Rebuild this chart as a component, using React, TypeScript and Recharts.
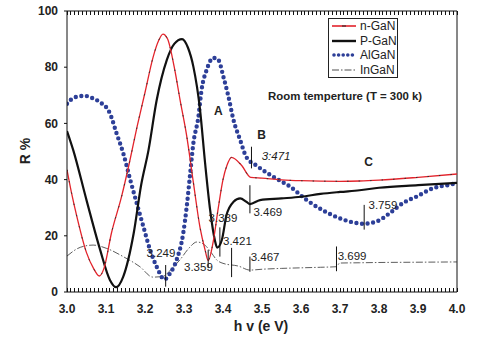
import React from "react";
import { LineChart, Line, XAxis, YAxis, ReferenceLine, ReferenceDot } from "recharts";

// reflectance curves, [photon energy eV, R %]
const nGaN = [
  [3.0, 43.5], [3.012, 35], [3.025, 27], [3.05, 14], [3.068, 8.4], [3.083, 5.7], [3.095, 8.5],
  [3.114, 21], [3.14, 34], [3.16, 46], [3.18, 59], [3.2, 71], [3.221, 83.7], [3.235, 89.5],
  [3.246, 91.8], [3.258, 90], [3.275, 80], [3.29, 68.3], [3.307, 55.5], [3.324, 39], [3.341, 23],
  [3.354, 15], [3.362, 11.2], [3.375, 18], [3.388, 30], [3.4, 40], [3.41, 45], [3.422, 47.9],
  [3.448, 45], [3.471, 40.8], [3.5, 40.5], [3.55, 39.9], [3.6, 39.6], [3.7, 39.4], [3.75, 39.5],
  [3.8, 39.8], [3.9, 40.8], [4.0, 42],
];
const pGaN = [
  [3.0, 57.3], [3.016, 50.5], [3.05, 32.7], [3.085, 15], [3.11, 4.3], [3.126, 1.7], [3.144, 5.4],
  [3.171, 20.9], [3.19, 38], [3.209, 50.5], [3.23, 68.3], [3.256, 82.6], [3.275, 88.3], [3.295, 90],
  [3.31, 87], [3.324, 80.2], [3.341, 65], [3.354, 46], [3.367, 29.2], [3.379, 18.5], [3.385, 15.8],
  [3.397, 18.5], [3.409, 27.4], [3.427, 32.1], [3.444, 33.3], [3.46, 32.1], [3.469, 31.3],
  [3.495, 32.7], [3.55, 33.3], [3.6, 33.9], [3.65, 34.9], [3.7, 35.6], [3.75, 36.2], [3.8, 37.1],
  [3.9, 38], [4.0, 38.8],
];
const alGaN = [
  [3.0, 67], [3.02, 69.3], [3.046, 69.8], [3.065, 69], [3.085, 67.5], [3.11, 63.6], [3.127, 56.5],
  [3.144, 49.5], [3.162, 40], [3.179, 31.5], [3.196, 23.2], [3.213, 15], [3.23, 9], [3.25, 4.5],
  [3.264, 6.6], [3.281, 11.4], [3.298, 20.9], [3.307, 30.4], [3.315, 41], [3.324, 52.9],
  [3.337, 62.4], [3.345, 71.9], [3.358, 79], [3.375, 83.3], [3.388, 82.6], [3.401, 76.6],
  [3.414, 69.5], [3.427, 61.2], [3.444, 54.1], [3.46, 48], [3.486, 45], [3.529, 41], [3.572, 37.5],
  [3.615, 32.7], [3.657, 29], [3.7, 26.2], [3.74, 24.6], [3.76, 24.3], [3.794, 25.1], [3.828, 28.1],
  [3.862, 31.7], [3.897, 34], [3.94, 37], [3.982, 38.2], [4.0, 38.8],
];
const inGaN = [
  [3.0, 12.8], [3.034, 15.9], [3.067, 16.7], [3.102, 15.5], [3.144, 12.6], [3.187, 9], [3.22, 5.3],
  [3.245, 5.5], [3.27, 8.5], [3.29, 11.5], [3.312, 15.5], [3.333, 17.8], [3.355, 16.5], [3.37, 14],
  [3.384, 11.4], [3.4, 10.2], [3.44, 9.2], [3.469, 7.8], [3.5, 8.1], [3.55, 8.4], [3.6, 8.6],
  [3.65, 8.8], [3.691, 9.0], [3.699, 10.3], [3.75, 10.4], [3.8, 10.5], [3.9, 10.6], [4.0, 10.7],
];

const xMajor = [3.0, 3.1, 3.2, 3.3, 3.4, 3.5, 3.6, 3.7, 3.8, 3.9, 4.0];
const yTicks = [0, 20, 40, 60, 80, 100];

// short vertical markers at the transition energies
const markers = [
  { x: 3.253, y1: 1.9, y2: 9.6 },
  { x: 3.362, y1: 8.5, y2: 15 },
  { x: 3.392, y1: 12.6, y2: 23 },
  { x: 3.422, y1: 5.3, y2: 15.7 },
  { x: 3.469, y1: 7.2, y2: 12.6 },
  { x: 3.469, y1: 28, y2: 38 },
  { x: 3.473, y1: 44, y2: 51.7 },
  { x: 3.691, y1: 7.4, y2: 16.2 },
  { x: 3.762, y1: 22.2, y2: 31 },
];
const notes = [
  { x: 3.241, y: 13.9, t: "3.249" },
  { x: 3.337, y: 8.9, t: "3.359" },
  { x: 3.4, y: 26.3, t: "3.389" },
  { x: 3.437, y: 18.3, t: "3.421" },
  { x: 3.508, y: 12.6, t: "3.467" },
  { x: 3.515, y: 28.5, t: "3.469" },
  { x: 3.536, y: 48.5, t: "3:471" },
  { x: 3.731, y: 12.9, t: "3.699" },
  { x: 3.81, y: 31.1, t: "3.759" },
];
const letters = [
  { x: 3.388, y: 64.5, t: "A" },
  { x: 3.499, y: 55.9, t: "B" },
  { x: 3.773, y: 46.4, t: "C" },
];

const FONT = "'Liberation Sans', Arial, sans-serif";
const RED = "#e3232b";
const BLUE = "#2d3f98";

const toPts = (arr: number[][]) => arr.map(([x, y]) => ({ x, y }));
// minor tick every 0.01 eV, drawn inward on the bottom and top frame
const minorTicks = Array.from({ length: 101 }, (_, i) => +(3 + i * 0.01).toFixed(2));

const legendRows = [
  { name: "n-GaN", kind: "n" },
  { name: "P-GaN", kind: "p" },
  { name: "AlGaN", kind: "al" },
  { name: "InGaN", kind: "in" },
];

function Swatch({ kind }: { kind: string }) {
  return (
    <svg width={24} height={10} style={{ display: "block" }}>
      {kind === "n" && (
        <>
          <line x1={0} x2={24} y1={5} y2={5} stroke={RED} strokeWidth={1.6} />
          <line x1={10} x2={14} y1={5} y2={5} stroke="#222" strokeWidth={1} />
        </>
      )}
      {kind === "p" && <line x1={0} x2={24} y1={5} y2={5} stroke="#111" strokeWidth={2.4} />}
      {kind === "al" && (
        <line x1={2} x2={24} y1={5} y2={5} stroke={BLUE} strokeWidth={3.6} strokeDasharray="0 4.6" strokeLinecap="round" />
      )}
      {kind === "in" && (
        <line x1={0} x2={24} y1={5} y2={5} stroke="#222" strokeWidth={0.8} strokeDasharray="7 2 1.5 2" />
      )}
    </svg>
  );
}

export default function App() {
  return (
    <div style={{ position: "absolute", left: 0, top: 0, width: 500, height: 346, background: "#fff", fontFamily: FONT }}>
      <LineChart width={500} height={346} margin={{ top: 11, right: 43, bottom: 24, left: 0 }}>
        <XAxis
          dataKey="x"
          type="number"
          domain={[3, 4]}
          ticks={xMajor}
          interval={0}
          tickLine={false}
          tickMargin={6}
          tickFormatter={(v: number) => v.toFixed(1)}
          tick={{ fontSize: 12, fontWeight: 700, fill: "#222", fontFamily: FONT }}
          height={30}
          stroke="#111"
          allowDataOverflow
        />
        <YAxis
          type="number"
          domain={[0, 100]}
          ticks={yTicks}
          width={67}
          tickSize={3}
          tickMargin={6}
          stroke="#111"
          tick={{ fontSize: 12, fontWeight: 700, fill: "#222", fontFamily: FONT }}
          allowDataOverflow
        />
        <ReferenceLine x={4} stroke="#111" strokeWidth={1} />
        <ReferenceLine y={100} stroke="#111" strokeWidth={1} />
        {minorTicks.map((v) => (
          <ReferenceLine key={`b-${v}`} segment={[{ x: v, y: 0 }, { x: v, y: 1.5 }]} stroke="#111" strokeWidth={1} shapeRendering="crispEdges" />
        ))}
        {minorTicks.map((v) => (
          <ReferenceLine key={`t-${v}`} segment={[{ x: v, y: 100 }, { x: v, y: 98.5 }]} stroke="#111" strokeWidth={1} shapeRendering="crispEdges" />
        ))}

        <Line data={toPts(inGaN)} dataKey="y" type="monotone" stroke="#333" strokeWidth={0.8} strokeDasharray="7 2 1.5 2" dot={false} activeDot={false} isAnimationActive={false} />
        <Line data={toPts(alGaN)} dataKey="y" type="monotone" stroke={BLUE} strokeWidth={4.4} strokeDasharray="0 5.6" strokeLinecap="round" dot={false} activeDot={false} isAnimationActive={false} />
        <Line data={toPts(pGaN)} dataKey="y" type="monotone" stroke="#111" strokeWidth={2.2} dot={false} activeDot={false} isAnimationActive={false} />
        <Line data={toPts(nGaN)} dataKey="y" type="monotone" stroke={RED} strokeWidth={1.3} dot={false} activeDot={false} isAnimationActive={false} />
        <Line data={toPts(nGaN)} dataKey="y" type="monotone" stroke="#333" strokeWidth={1} strokeDasharray="1.5 10" dot={false} activeDot={false} isAnimationActive={false} />

        {markers.map((m, i) => (
          <ReferenceLine key={`m-${i}`} segment={[{ x: m.x, y: m.y1 }, { x: m.x, y: m.y2 }]} stroke="#111" strokeWidth={1} />
        ))}
        {notes.map((n) => (
          <ReferenceDot
            key={n.t}
            x={n.x}
            y={n.y}
            r={1}
            fill="none"
            stroke="none"
            label={{ value: n.t, position: "center", fontSize: 11.5, fill: "#222", fontFamily: FONT, fontStyle: n.t.includes(":") ? "italic" : "normal" }}
          />
        ))}
        {letters.map((n) => (
          <ReferenceDot
            key={n.t}
            x={n.x}
            y={n.y}
            r={1}
            fill="none"
            stroke="none"
            label={{ value: n.t, position: "center", fontSize: 12, fontWeight: 700, fill: "#222", fontFamily: FONT }}
          />
        ))}
        <ReferenceDot
          x={3.713}
          y={69.8}
          r={1}
          fill="none"
          stroke="none"
          label={{ value: "Room temperture (T = 300 k)", position: "center", fontSize: 11.4, fontWeight: 700, fill: "#222", fontFamily: FONT }}
        />
      </LineChart>

      <svg width={500} height={346} style={{ position: "absolute", left: 0, top: 0, pointerEvents: "none" }}>
        <text x={261} y={331} textAnchor="middle" fontSize={14} fontWeight={700} fill="#222" fontFamily={FONT}>
          h v (e V)
        </text>
        <text x={30} y={151} textAnchor="middle" fontSize={14} fontWeight={700} fill="#222" fontFamily={FONT} transform="rotate(-90 30 151)">
          R %
        </text>
      </svg>

      <div
        style={{
          position: "absolute",
          left: 328,
          top: 18,
          width: 70,
          height: 60,
          boxSizing: "border-box",
          border: "1px solid #222",
          background: "#fff",
          fontSize: 12,
          color: "#222",
        }}
      >
        {legendRows.map((r) => (
          <div key={r.name} style={{ height: 14.6, display: "flex", alignItems: "center" }}>
            <div style={{ marginLeft: 3 }}>
              <Swatch kind={r.kind} />
            </div>
            <span style={{ marginLeft: 4, lineHeight: "14px" }}>{r.name}</span>
          </div>
        ))}
      </div>
    </div>
  );
}
